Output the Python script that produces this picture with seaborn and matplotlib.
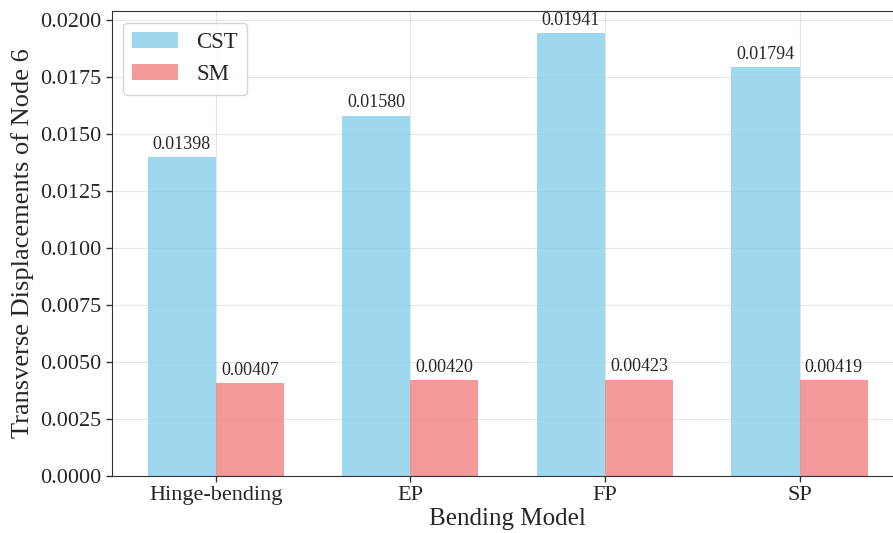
import pandas as pd
import matplotlib
matplotlib.use("Agg")
import matplotlib.pyplot as plt
import seaborn as sns

# Data
models = ['Hinge-bending', 'EP', 'FP', 'SP']
cst = [0.01398, 0.01580, 0.01941, 0.01794]
sm = [0.00407, 0.00420, 0.00423, 0.00419]

df = pd.DataFrame({
    'Bending Model': models * 2,
    'Displacement': cst + sm,
    'Method': ['CST'] * len(models) + ['SM'] * len(models),
})

sns.set_style("white")
plt.rcParams['font.family'] = ['Liberation Serif', 'DejaVu Serif']

fig = plt.figure(figsize=(8.93, 5.33), dpi=100)
# axes runs a little past the right edge, as in the cropped original
ax = fig.add_axes([0.125, 0.107, 0.887, 0.872])

sns.barplot(data=df, x='Bending Model', y='Displacement', hue='Method',
            palette={'CST': 'skyblue', 'SM': 'lightcoral'}, alpha=0.8,
            saturation=1, width=0.7, linewidth=0, ax=ax)

for cont in ax.containers:
    ax.bar_label(cont, fmt='%.5f', padding=3, fontsize=13)

ax.set_xlim(-0.535, len(models) - 1 + 0.535)
ax.set_ylim(0, max(cst) * 1.05)
ax.set_xlabel('Bending Model', fontsize=18, labelpad=2)
ax.set_ylabel('Transverse Displacements of Node 6', fontsize=19)
ax.tick_params(axis='both', labelsize=16, length=4, width=1, left=True, bottom=True, color='#333333')
ax.grid(True, color='#b0b0b0', alpha=0.3)
ax.set_axisbelow(True)
for s in ax.spines.values():
    s.set_color('#333333')
ax.spines['right'].set_visible(False)
ax.legend(title=None, fontsize=16.5, loc='upper left')

fig.savefig('out.png', dpi=100)
